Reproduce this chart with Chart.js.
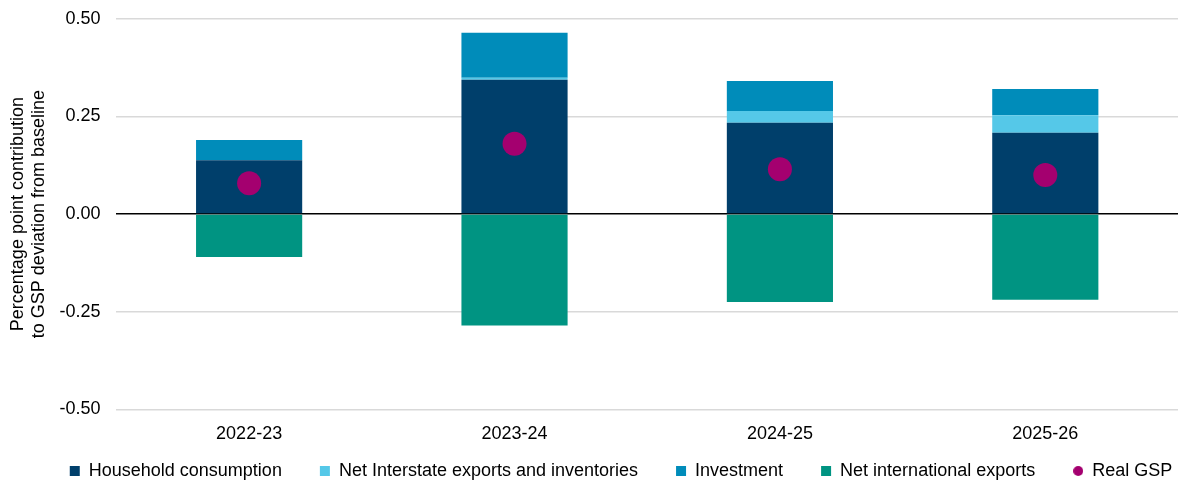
<!DOCTYPE html>
<html>
<head>
<meta charset="utf-8">
<script src="https://cdn.jsdelivr.net/npm/chart.js@4"></script>
<style>
    html, body { margin: 0; padding: 0; background: #fff; overflow: hidden; }
    #wrap { width: 1190px; height: 491px; margin-top: -8px; }
</style>
</head>
<body>
<div id="wrap"><canvas id="myChart"></canvas></div>
<script>
// Chart data
const years = ['2022-23', '2023-24', '2024-25', '2025-26'];
const household = [0.138, 0.344, 0.234, 0.208];
const netInterstate = [0.0, 0.005, 0.03, 0.045];
const investment = [0.052, 0.115, 0.077, 0.067];
const netInternational = [-0.11, -0.285, -0.225, -0.219];
const realGsp = [0.079, 0.18, 0.115, 0.10];
const yTicks = [-0.5, -0.25, 0, 0.25, 0.5];

document.addEventListener('DOMContentLoaded', () => {
    const chartCanvas = document.getElementById('myChart');
    const font = { family: '"Liberation Sans", Arial, sans-serif', size: 18 };
    const legendGap = 38;
    const gspColor = '#a4006f';

    // small round legend marker for Real GSP (same size as the squares)
    const dot = document.createElement('canvas');
    dot.width = 10;
    dot.height = 10;
    const dctx = dot.getContext('2d');
    dctx.fillStyle = gspColor;
    dctx.beginPath();
    dctx.arc(5, 5, 5, 0, Math.PI * 2);
    dctx.fill();

    const barSet = (label, data, color) => ({
        type: 'bar',
        label: label,
        data: data,
        backgroundColor: color,
        borderWidth: 0,
        stack: 'parts',
        order: 1,
        pointStyle: 'rect',
        categoryPercentage: 1.0,
        barPercentage: 0.4
    });

    // keep the legend short in height but with wide gaps between items
    const legendPlace = {
        id: 'legendPlace',
        beforeInit(chart) {
            const fit = chart.legend.fit;
            chart.legend.fit = function () {
                fit.call(this);
                this.height = 24;
            };
        },
        afterLayout(chart) {
            const lg = chart.legend;
            lg.top = chart.height - 12 - legendGap - 9;
            lg.bottom = chart.height;
            lg.left += 22;
            lg.right += 22;
        }
    };

    new Chart(chartCanvas, {
        data: {
            labels: years,
            datasets: [
                barSet('Household consumption', household, '#003f6b'),
                barSet('Net Interstate exports and inventories', netInterstate, '#55c8e8'),
                barSet('Investment', investment, '#008cba'),
                barSet('Net international exports', netInternational, '#009482'),
                {
                    type: 'line',
                    label: 'Real GSP',
                    data: realGsp,
                    showLine: false,
                    stack: 'gsp',
                    order: 0,
                    pointStyle: 'circle',
                    pointRadius: 12,
                    pointHoverRadius: 12,
                    backgroundColor: gspColor,
                    borderColor: gspColor,
                    borderWidth: 0
                }
            ]
        },
        options: {
            responsive: true,
            maintainAspectRatio: false,
            animation: false,
            layout: { padding: { left: 8, right: 0, top: 0, bottom: 0 } },
            scales: {
                x: {
                    stacked: true,
                    grid: { display: false, drawTicks: false },
                    border: { display: false },
                    ticks: { color: '#000', font: font, padding: 14 }
                },
                y: {
                    stacked: true,
                    min: -0.5,
                    max: 0.5,
                    afterBuildTicks: axis => {
                        axis.ticks = yTicks.map(v => ({ value: v }));
                    },
                    border: { display: false },
                    grid: {
                        color: ctx => ctx.tick && ctx.tick.value === 0 ? '#000000' : '#d9d9d9',
                        lineWidth: 1.5,
                        drawTicks: false
                    },
                    ticks: {
                        color: '#000',
                        font: font,
                        padding: 16,
                        callback: v => Number(v).toFixed(2)
                    },
                    title: {
                        display: true,
                        text: ['Percentage point contribution', 'to GSP deviation from baseline'],
                        color: '#000',
                        font: { family: font.family, size: 18, lineHeight: 1.15 },
                        padding: { top: 0, bottom: -6 }
                    }
                }
            },
            plugins: {
                legend: {
                    display: true,
                    position: 'bottom',
                    labels: {
                        color: '#000',
                        font: font,
                        usePointStyle: true,
                        boxHeight: 10,
                        boxWidth: 10,
                        padding: legendGap,
                        sort: (a, b) => a.datasetIndex - b.datasetIndex,
                        generateLabels: chart => {
                            const items = Chart.defaults.plugins.legend.labels.generateLabels(chart);
                            items.forEach(item => {
                                if (item.text === 'Real GSP') item.pointStyle = dot;
                            });
                            return items;
                        }
                    }
                },
                tooltip: { enabled: false }
            }
        },
        plugins: [legendPlace]
    });
});
</script>
</body>
</html>
